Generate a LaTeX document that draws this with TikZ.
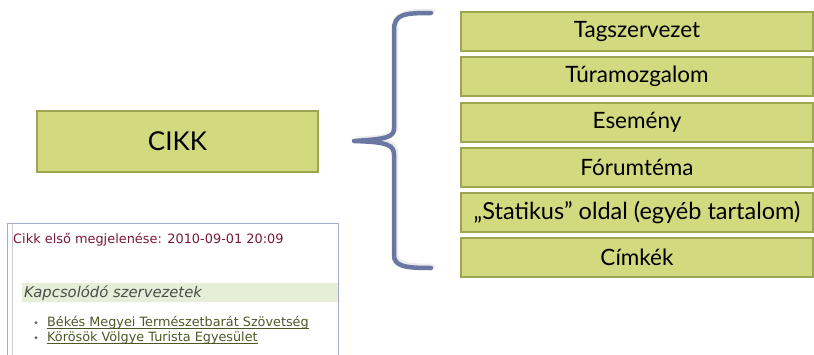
\documentclass[tikz,border=0pt]{standalone}
\usepackage{fontspec}
\setmainfont{Lato}
\newfontfamily\webfont{DejaVu Sans}
\newfontfamily\webitfont{DejaVu Sans Oblique}
\definecolor{boxfill}{HTML}{D3D97E}
\definecolor{boxline}{HTML}{9DA552}
\definecolor{bracecol}{HTML}{6B77A3}
\definecolor{panelline}{HTML}{A3AACB}
\definecolor{datecol}{HTML}{7A1838}
\definecolor{bandcol}{HTML}{E6EED8}
\definecolor{linkcol}{HTML}{4A5A26}
\tikzset{
  box/.style={draw=boxline, line width=1.2pt, fill=boxfill, inner sep=0pt,
    font=\fontsize{22.5}{24}\selectfont, text=black, anchor=center},
  itembox/.style={box, minimum width=352pt, minimum height=39pt},
  bracepath/.style={draw=bracecol, line width=4.5pt, line cap=round, line join=round},
  braceshadow/.style={draw=black!20, line width=4.5pt, line cap=round, opacity=0.4},
  weblink/.style={font=\webfont\fontsize{12.8}{14}\selectfont, text=linkcol, anchor=base west, inner sep=0pt},
  linkline/.style={draw=linkcol, line width=0.7pt},
  bulletdot/.style={fill=black!60}
}
\begin{document}
\begin{tikzpicture}[x=1pt,y=-1pt]
\useasboundingbox (0,0) rectangle (814,354);
% CIKK
\node[box, minimum width=281pt, minimum height=61pt, font=\fontsize{26}{28}\selectfont] (cikk) at (177.5,141.5) {CIKK};
% items
\node[itembox] (i1) at (637,31.5) {Tagszervezet};
\node[itembox] (i2) at (637,76.5) {Túramozgalom};
\node[itembox] (i3) at (637,122.5) {Esemény};
\node[itembox] (i4) at (637,167.5) {Fórumtéma};
\node[itembox, font=\fontsize{23.5}{25}\selectfont] (i5) at (637,212.5) {„Statikus” oldal (egyéb tartalom)};
\node[itembox] (i6) at (637,257.5) {Címkék};
% brace
\coordinate (tip) at (354,141);
\foreach \s/\o in {braceshadow/2, bracepath/0}{
\draw[\s, shift={(\o pt,\o pt)}] (431,13) .. controls (404,13) and (394,14) .. (394,30)
  -- (394,128) .. controls (394,137) and (388,139) .. (354,141)
  .. controls (388,142) and (394,145) .. (394,155)
  -- (394,255) .. controls (394,266) and (404,268) .. (431,268);
}
% screenshot panel
\draw[panelline, line width=1pt] (7,360) -- (7,223) -- (338,223) -- (338,360);
\draw[panelline!60, line width=0.6pt] (12.5,224) -- (12.5,360);
\node[font=\webfont\fontsize{12.9}{14}\selectfont, text=datecol, anchor=base west, inner sep=0pt] (date) at (13,243.5) {Cikk első megjelenése: 2010-09-01 20:09};
\fill[bandcol] (22,283) rectangle (337.5,302);
\node[font=\webitfont\fontsize{14.8}{16}\selectfont, text=black!70, anchor=base west, inner sep=0pt] (kap) at (24,297.5) {Kapcsolódó szervezetek};
\fill[bulletdot] (36,322.7) circle (1.6pt);
\fill[bulletdot] (36,337.7) circle (1.6pt);
\node[weblink] (l1) at (47,326.5) {Békés Megyei Természetbarát Szövetség};
\node[weblink] (l2) at (47,341.5) {Körösök Völgye Turista Egyesület};
\draw[linkline] ([yshift=-1.6pt]l1.base west) -- ([yshift=-1.6pt]l1.base east);
\draw[linkline] ([yshift=-1.6pt]l2.base west) -- ([yshift=-1.6pt]l2.base east);
\end{tikzpicture}
\end{document}
